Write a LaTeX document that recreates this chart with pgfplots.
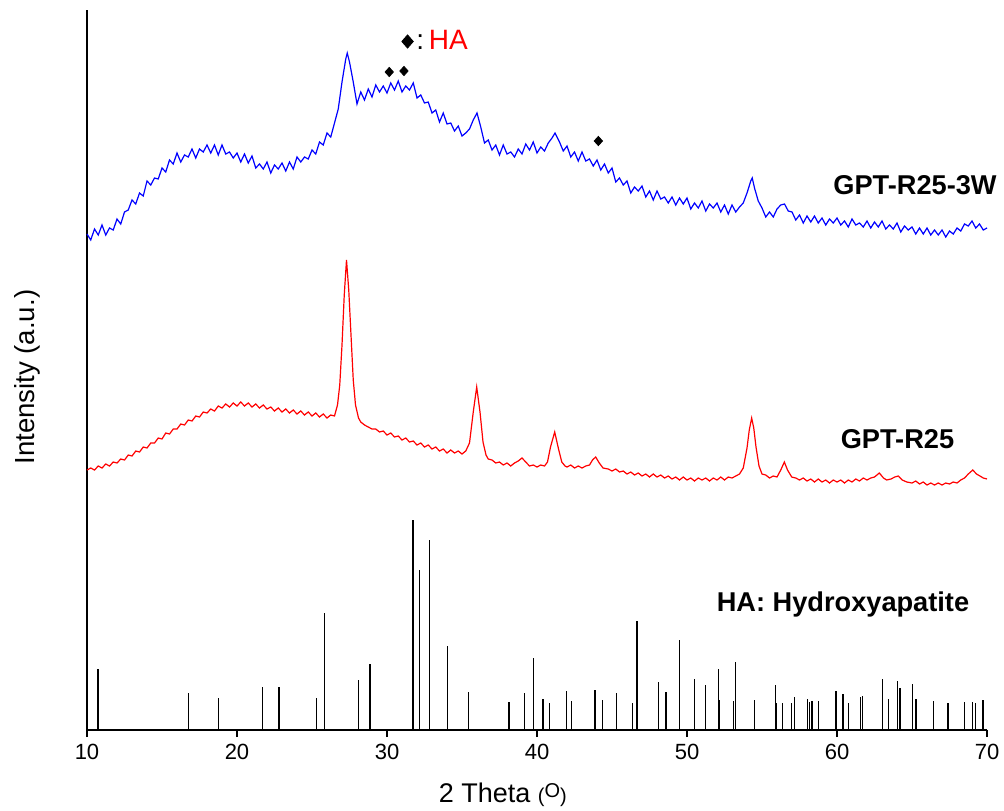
\documentclass[border=0pt]{standalone}
\usepackage{fontspec}
\setmainfont{Liberation Sans}
\usepackage{pgfplots}
\pgfplotsset{compat=1.18}
\begin{document}
\begin{tikzpicture}
\useasboundingbox (-43.5pt,-40pt) rectangle (458.5pt,365pt);
\begin{axis}[
  scale only axis, width=450pt, height=360pt,
  xmin=10, xmax=70, ymin=0, ymax=720,
  axis lines=left, axis line style={-, line width=0.7pt},
  xtick={10,20,...,70}, ytick=\empty,
  tick align=outside, major tick length=3.5pt,
  tick style={line width=0.7pt, black},
  /pgf/number format/assume math mode=true,
  xticklabel style={font=\fontsize{11pt}{13pt}\selectfont},
  xlabel={2 Theta {\fontsize{10pt}{12pt}\selectfont(\raisebox{0.45ex}{O})}},
  xlabel style={font=\fontsize{13.5pt}{16pt}\selectfont, at={(axis description cs:0.462,-0.09)}, anchor=center},
  ylabel={Intensity (a.u.)},
  ylabel style={font=\fontsize{13.8pt}{16pt}\selectfont, at={(axis description cs:-0.066,0.49)}, anchor=center},
  clip=false,
]
% HA reference sticks
\addplot[ycomb, black, line width=0.6pt, mark=none] coordinates {
(10.73,61)(16.78,37)(18.76,32)(21.71,43)(22.80,43)(25.31,32)(25.84,117)(28.09,50)(28.87,66)
(31.73,210)(32.16,160)(32.84,190)(34.02,84)(35.42,38)(38.13,28)(39.18,37)(39.78,72)
(40.40,31)(40.85,27)(41.96,39)(42.31,29)(43.87,40)(44.36,30)(45.31,37)(46.38,27)(46.67,109)
(48.09,48)(48.60,38)(49.49,90)(50.49,51)(51.24,45)(52.09,61)(52.16,30)(53.09,29)(53.22,68)
(54.51,30)(55.89,45)(55.95,27)(56.36,27)(56.98,27)(57.16,33)(58.02,31)(58.15,28)(58.33,29)
(58.76,29)(59.93,39)(60.40,36)(60.76,27)(61.58,33)(61.71,34)(63.02,51)(63.44,31)(64.02,49)
(64.20,42)(65.02,46)(65.27,31)(66.42,29)(67.40,27)(68.51,28)(69.02,28)(69.24,27)(69.73,30)
};
% GPT-R25 (red)
\addplot[red, line width=0.6pt, mark=none] coordinates {
(10.00,260)(10.25,262)(10.50,260)(10.75,264)(11.00,262)(11.25,266)(11.50,264)(11.75,268)
(12.00,267)(12.25,271)(12.50,270)(12.75,275)(13.00,274)(13.25,279)(13.50,278)(13.75,283)
(14.00,282)(14.25,287)(14.50,287)(14.75,292)(15.00,291)(15.25,297)(15.50,296)(15.75,301)
(16.00,301)(16.25,306)(16.50,305)(16.75,310)(17.00,309)(17.25,314)(17.50,313)(17.75,318)
(18.00,317)(18.25,321)(18.50,319)(18.75,324)(19.00,322)(19.25,326)(19.50,323)(19.75,327)
(20.00,324)(20.25,328)(20.50,324)(20.75,327)(21.00,323)(21.25,326)(21.50,322)(21.75,325)
(22.00,321)(22.25,323)(22.50,319)(22.75,322)(23.00,318)(23.25,321)(23.50,317)(23.75,320)
(24.00,316)(24.25,319)(24.50,315)(24.75,318)(25.00,314)(25.25,317)(25.50,313)(25.75,316)
(26.00,312)(26.25,315)(26.50,314)(26.70,325)(26.85,345)(27.00,385)(27.15,435)(27.30,470)
(27.45,440)(27.60,395)(27.75,350)(27.90,325)(28.10,312)(28.25,308)(28.50,305)(28.75,303)
(29.00,301)(29.25,301)(29.50,298)(29.75,299)(30.00,295)(30.25,297)(30.50,293)(30.75,294)
(31.00,290)(31.25,292)(31.50,288)(31.75,289)(32.00,285)(32.25,287)(32.50,283)(32.75,285)
(33.00,281)(33.25,283)(33.50,279)(33.75,281)(34.00,277)(34.25,280)(34.50,277)(34.75,279)
(35.00,276)(35.25,279)(35.50,287)(35.75,318)(35.98,343)(36.20,318)(36.40,288)(36.60,275)
(36.75,271)(37.00,270)(37.25,267)(37.50,268)(37.75,265)(38.00,267)(38.25,264)(38.50,267)
(38.75,269)(39.00,272)(39.25,268)(39.50,264)(39.75,265)(40.00,263)(40.25,265)(40.50,264)
(40.70,268)(40.90,283)(41.18,298)(41.45,280)(41.65,268)(41.87,264)(42.00,263)(42.25,265)
(42.50,262)(42.75,264)(43.00,262)(43.25,264)(43.50,265)(43.70,270)(43.91,273)(44.15,267)
(44.40,262)(44.75,261)(45.00,259)(45.25,261)(45.50,258)(45.75,259)(46.00,256)(46.25,258)
(46.50,255)(46.75,257)(47.00,254)(47.25,256)(47.50,253)(47.75,256)(48.00,253)(48.25,255)
(48.50,252)(48.75,254)(49.00,251)(49.25,253)(49.50,250)(49.75,253)(50.00,250)(50.25,252)
(50.50,249)(50.75,252)(51.00,250)(51.25,252)(51.50,249)(51.75,252)(52.00,250)(52.25,253)
(52.50,250)(52.75,253)(53.00,252)(53.25,254)(53.50,256)(53.75,262)(54.00,282)(54.15,300)
(54.31,312)(54.45,302)(54.60,283)(54.80,264)(55.00,256)(55.25,255)(55.50,252)(55.75,254)
(56.00,253)(56.25,260)(56.49,268)(56.70,260)(56.98,253)(57.25,252)(57.50,250)(57.75,252)
(58.00,249)(58.25,251)(58.50,248)(58.75,251)(59.00,248)(59.25,250)(59.50,247)(59.75,250)
(60.00,248)(60.25,250)(60.50,247)(60.75,250)(61.00,248)(61.25,251)(61.50,249)(61.75,252)
(62.00,250)(62.25,252)(62.50,253)(62.82,257)(63.10,252)(63.31,250)(63.60,251)(63.85,253)
(64.09,254)(64.35,250)(64.65,248)(65.00,247)(65.25,249)(65.50,246)(65.75,248)(66.00,245)
(66.25,247)(66.50,245)(66.75,247)(67.00,245)(67.25,247)(67.50,246)(67.75,248)(68.00,247)
(68.25,250)(68.50,252)(68.75,256)(69.05,260)(69.30,256)(69.53,254)(69.75,252)(70.00,251)
};
% GPT-R25-3W (blue)
\addplot[blue, line width=0.6pt, mark=none] coordinates {
(10.00,496)(10.25,490)(10.50,501)(10.75,495)(11.00,505)(11.25,495)(11.50,502)(11.75,500)
(12.00,511)(12.25,506)(12.50,518)(12.75,520)(13.00,530)(13.25,526)(13.50,537)(13.75,534)
(14.00,549)(14.25,545)(14.50,552)(14.75,551)(15.00,562)(15.25,558)(15.50,570)(15.75,566)
(16.00,577)(16.25,568)(16.50,575)(16.75,573)(17.00,581)(17.25,572)(17.50,581)(17.75,578)
(18.00,585)(18.25,577)(18.50,585)(18.75,575)(19.00,585)(19.25,576)(19.50,578)(19.75,572)
(20.00,577)(20.25,568)(20.50,576)(20.75,567)(21.00,574)(21.25,562)(21.50,566)(21.75,561)
(22.00,568)(22.25,557)(22.50,565)(22.75,561)(23.00,567)(23.25,559)(23.50,568)(23.75,561)
(24.00,573)(24.25,568)(24.50,573)(24.75,571)(25.00,580)(25.25,576)(25.50,588)(25.75,585)
(26.00,597)(26.25,593)(26.50,607)(26.75,621)(27.00,648)(27.25,671)(27.35,677)(27.50,668)
(27.75,648)(28.00,626)(28.25,638)(28.50,630)(28.75,641)(29.00,633)(29.25,645)(29.50,638)
(29.75,644)(30.00,637)(30.25,647)(30.50,640)(30.75,649)(31.00,638)(31.25,644)(31.50,640)
(31.75,647)(32.00,632)(32.25,635)(32.50,627)(32.75,628)(33.00,617)(33.25,620)(33.50,608)
(33.75,617)(34.00,606)(34.25,607)(34.50,599)(34.75,604)(35.00,594)(35.25,597)(35.50,601)
(35.75,610)(36.00,617)(36.25,603)(36.50,587)(36.75,590)(37.00,580)(37.25,585)(37.50,575)
(37.75,585)(38.00,576)(38.25,578)(38.50,573)(38.75,581)(39.00,576)(39.25,586)(39.50,580)
(39.75,588)(40.00,577)(40.25,583)(40.50,579)(40.75,587)(41.00,592)(41.20,597)(41.50,588)
(41.75,579)(42.00,584)(42.25,573)(42.50,578)(42.75,569)(43.00,578)(43.25,569)(43.50,571)
(43.75,564)(44.00,570)(44.25,560)(44.50,566)(44.75,557)(45.00,562)(45.25,548)(45.50,552)
(45.75,545)(46.00,549)(46.25,537)(46.50,543)(46.75,539)(47.00,544)(47.25,533)(47.50,539)
(47.75,530)(48.00,539)(48.25,531)(48.50,533)(48.75,527)(49.00,533)(49.25,525)(49.50,532)
(49.75,526)(50.00,532)(50.25,521)(50.50,527)(50.75,522)(51.00,529)(51.25,519)(51.50,526)
(51.75,522)(52.00,527)(52.25,518)(52.50,525)(52.75,516)(53.00,525)(53.25,518)(53.50,523)
(53.75,527)(54.00,537)(54.25,549)(54.35,552)(54.50,542)(54.75,529)(55.00,522)(55.25,513)
(55.50,518)(55.75,513)(56.00,521)(56.25,525)(56.50,526)(56.75,519)(57.00,518)(57.25,510)
(57.50,515)(57.75,507)(58.00,514)(58.25,508)(58.50,514)(58.75,507)(59.00,512)(59.25,505)
(59.50,511)(59.75,507)(60.00,512)(60.25,505)(60.50,509)(60.75,503)(61.00,511)(61.25,505)
(61.50,507)(61.75,503)(62.00,509)(62.25,502)(62.50,508)(62.75,503)(63.00,509)(63.25,501)
(63.50,505)(63.75,501)(64.00,507)(64.25,498)(64.50,504)(64.75,500)(65.00,503)(65.25,496)
(65.50,502)(65.75,496)(66.00,502)(66.25,495)(66.50,500)(66.75,495)(67.00,500)(67.25,493)
(67.50,499)(67.75,496)(68.00,502)(68.25,499)(68.50,506)(68.75,504)(69.00,509)(69.25,502)
(69.50,506)(69.75,500)(70.00,502)
};
% HA markers
\addplot[only marks, mark=diamond*, mark size=2.3pt, black, mark options={xscale=1.2}]
  coordinates {(30.15,658)(31.13,659)(44.09,589)};
\addplot[only marks, mark=diamond*, mark size=3.3pt, black, mark options={xscale=1.15}]
  coordinates {(31.37,688.5)};
\node[anchor=west, inner sep=0pt, font=\fontsize{14pt}{16pt}\selectfont] at (axis cs:31.93,690) {:\,\textcolor{red}{HA}};
\node[anchor=east, inner sep=0pt, font=\bfseries\fontsize{13.6pt}{16pt}\selectfont] at (axis cs:70.67,545) {GPT-R25-3W};
\node[anchor=center, inner sep=0pt, font=\bfseries\fontsize{13.6pt}{16pt}\selectfont] at (axis cs:64.03,291) {GPT-R25};
\node[anchor=center, inner sep=0pt, font=\bfseries\fontsize{13.6pt}{16pt}\selectfont] at (axis cs:60.4,126) {HA: Hydroxyapatite};
\end{axis}
\end{tikzpicture}
\end{document}
